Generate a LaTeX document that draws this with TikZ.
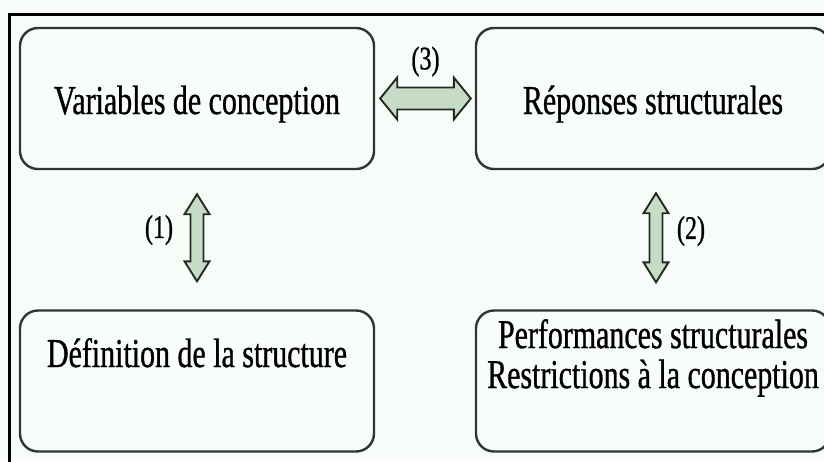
\documentclass[tikz,border=0pt]{standalone}
\usepackage{fontspec}
\usetikzlibrary{calc}
\newfontfamily\boxfont[FakeStretch=0.73,FakeBold=0.8]{Liberation Serif}
\definecolor{paper}{RGB}{247,252,248}
\definecolor{boxfill}{RGB}{249,253,250}
\definecolor{boxline}{RGB}{50,52,50}
\definecolor{arrowfill}{RGB}{198,220,198}
\definecolor{arrowline}{RGB}{35,42,35}

% horizontal double arrow between two coordinates (tip to tip)
\newcommand{\fatH}[2]{%
  \draw[fatarrow] (#1) -- ++(17,-21) -- ++(0,10) -- ($(#2)+(-17,-11)$) -- ++(0,-10)
    -- (#2) -- ++(-17,21) -- ++(0,-10) -- ($(#1)+(17,11)$) -- ++(0,10) -- cycle;}
% vertical double arrow between two coordinates (tip to tip)
\newcommand{\fatV}[2]{%
  \draw[fatarrow] (#1) -- ++(12.5,20) -- ++(-6,0) -- ($(#2)+(6.5,-20)$) -- ++(6,0)
    -- (#2) -- ++(-12.5,-20) -- ++(6,0) -- ($(#1)+(-6.5,20)$) -- ++(-6,0) -- cycle;}

\begin{document}
\begin{tikzpicture}[x=1pt,y=-1pt,
  box/.style={draw=boxline, line width=2.4pt, fill=boxfill, rounded corners=18pt,
              minimum width=354pt, minimum height=141pt, inner sep=0pt},
  boxtext/.style={font=\boxfont\fontsize{41}{40}\selectfont, text=black, inner sep=0pt, align=center},
  numtext/.style={font=\boxfont\fontsize{33}{33}\selectfont, text=black, inner sep=0pt},
  fatarrow/.style={draw=arrowline, line width=1.9pt, fill=arrowfill, line join=miter}]
  \useasboundingbox (0,0) rectangle (824,461);
  \clip (0,0) rectangle (824,461);
  \fill[paper] (0,0) rectangle (824,461);
  % outer frame, running past the right and bottom edges
  \draw[line width=3pt, black] (9.5,14) rectangle (900,520);

  % boxes
  \node[box] (var)  at (197,98.5) {};
  \node[box] (rep)  at (653,98.5) {};
  \node[box] (def)  at (197,381) {};
  \node[box] (perf) at (653,381) {};

  % box texts
  \node[boxtext, anchor=base] (var-t) at ([yshift=-15.5pt]var.center) {Variables de conception};
  \node[boxtext, anchor=base] (rep-t) at ([yshift=-15.5pt]rep.center) {Réponses structurales};
  \node[boxtext, anchor=base] (def-t) at ([yshift=14pt]def.center) {Définition de la structure};
  \node[boxtext] (perf-t) at ([yshift=23pt]perf.center) {Performances structurales\\Restrictions à la conception};

  % connectors
  \coordinate (a3s) at ([xshift=5pt]var.east);
  \coordinate (a3e) at ([xshift=-4pt]rep.west);
  \fatH{a3s}{a3e}
  \coordinate (a1s) at ([yshift=-24pt]var.south);
  \coordinate (a1e) at ([yshift=28pt]def.north);
  \fatV{a1s}{a1e}
  \coordinate (a2s) at ([xshift=3pt,yshift=-23pt]rep.south);
  \coordinate (a2e) at ([xshift=3pt,yshift=27pt]perf.north);
  \fatV{a2s}{a2e}

  % connector labels
  \node[numtext] (l3) at ([yshift=37pt]$(a3s)!0.5!(a3e)$) {(3)};
  \node[numtext] (l1) at (159,230) {(1)};
  \node[numtext] (l2) at (691,231) {(2)};
\end{tikzpicture}
\end{document}
